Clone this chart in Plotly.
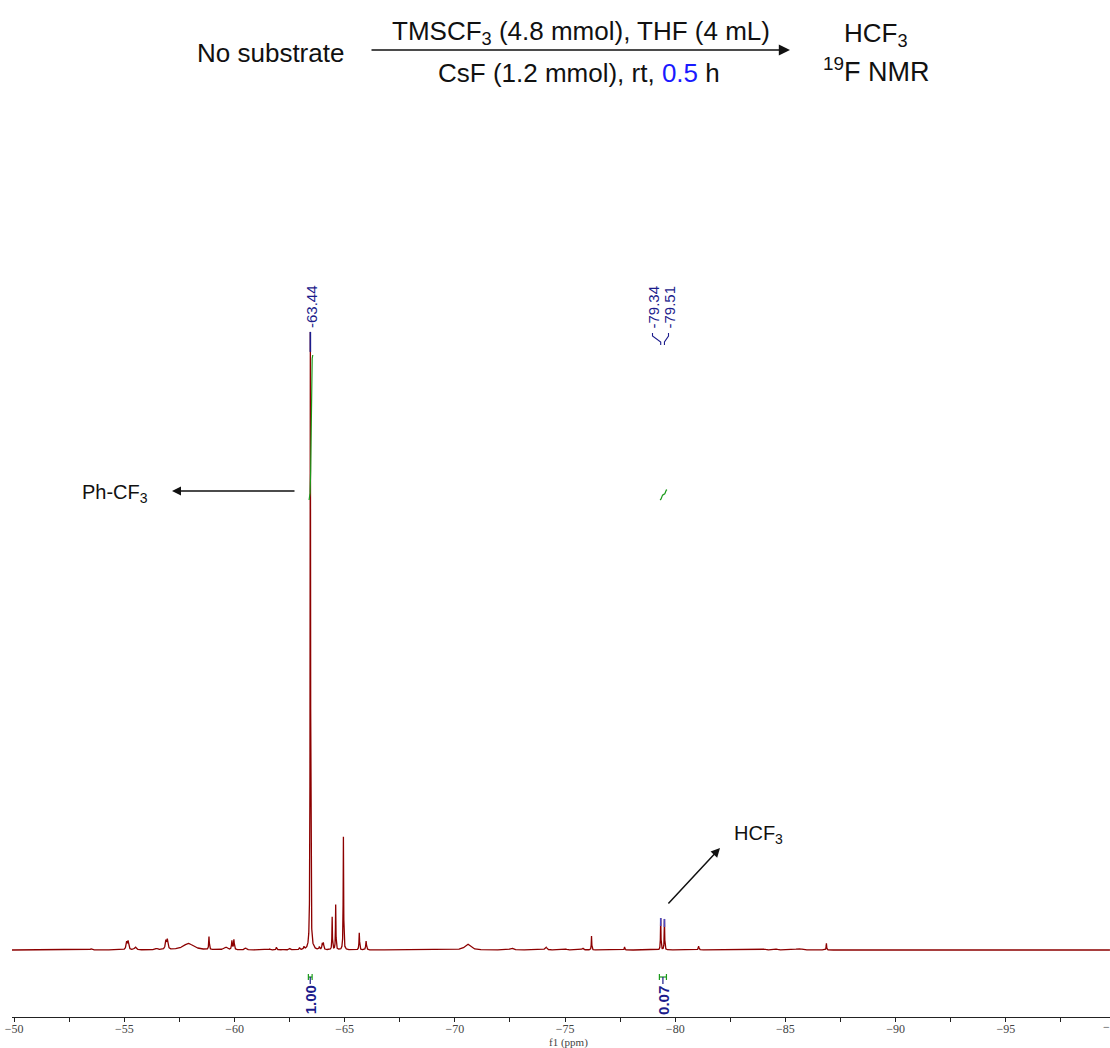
import numpy as np
import plotly.graph_objects as go

# ---------------- data ----------------
# 19F NMR peak list: chemical shift (ppm), relative intensity (tallest = 100), half width (ppm)
peak_ppm = [-53.50, -55.10, -55.17, -55.50, -56.47, -56.88, -56.95, -57.90, -58.84,
            -59.60, -59.88, -59.97, -60.50, -61.60, -61.90, -62.20, -62.50, -62.95,
            -63.15, -63.44, -63.60, -63.85, -63.98, -64.03, -64.43, -64.59, -64.94,
            -65.66, -65.97, -70.57, -72.57, -74.13, -75.04, -75.80, -76.20, -77.70,
            -79.34, -79.51, -81.06, -84.06, -84.60, -85.60, -86.86]
peak_int = [0.20, 1.20, 1.35, 0.45, 0.22, 1.35, 1.55, 1.05, 2.10,
            0.45, 1.45, 1.60, 0.30, 0.15, 0.45, 0.15, 0.22, 0.32,
            0.45, 100.0, 0.30, 0.45, 0.95, 1.05, 5.30, 7.30, 18.30,
            2.75, 1.45, 0.95, 0.30, 0.48, 0.15, 0.30, 2.25, 0.48,
            5.15, 5.00, 0.62, 0.15, 0.15, 0.22, 1.10]
peak_hw = [0.05, 0.03, 0.03, 0.05, 0.05, 0.03, 0.03, 0.28, 0.015,
           0.08, 0.02, 0.02, 0.05, 0.03, 0.02, 0.03, 0.03, 0.02,
           0.02, 0.012, 0.02, 0.02, 0.02, 0.02, 0.012, 0.012, 0.012,
           0.015, 0.02, 0.15, 0.08, 0.05, 0.05, 0.04, 0.012, 0.015,
           0.012, 0.012, 0.02, 0.05, 0.05, 0.15, 0.012]

# picked peak labels
picked_ppm = [-63.44, -79.34, -79.51]
picked_text = ["-63.44", "-79.34", "-79.51"]

# integrals
integ_from = [-63.35, -79.28]
integ_to = [-63.52, -79.60]
integ_val = [1.00, 0.07]

# ---------------- layout geometry ----------------
W, H = 1110, 1048
ML, MR, MT, MB = 12, 0, 0, 31
PW, PH = W - ML - MR, H - MT - MB
XL, XR = -49.90, -99.73
PX_PER_UNIT = 6.18          # pixels per intensity unit
BASE_PY = 950               # pixel row of the baseline
YB = -(MT + PH - BASE_PY) / PX_PER_UNIT
YT = (BASE_PY - MT) / PX_PER_UNIT


def xpx(px):
    return XL + (px - ML) / PW * (XR - XL)


def ypx(py):
    return YB + (MT + PH - py) / PH * (YT - YB)


def xpaper(px):
    return (px - ML) / PW


def ypaper(py):
    return (MT + PH - py) / PH


def ppm_to_px(p):
    return ML + (p - XL) / (XR - XL) * PW


# ---------------- spectrum ----------------
ppm = np.arange(XL, XR, -0.0025)
spec = np.zeros_like(ppm)
for c, h, w in zip(peak_ppm, peak_int, peak_hw):
    spec += h * w ** 2 / ((ppm - c) ** 2 + w ** 2)

RED = "#8c0000"
NAVY = "#1c1c8c"
GREEN = "#1a9a1a"

fig = go.Figure()
fig.add_trace(go.Scatter(x=ppm, y=spec, mode="lines",
                         line=dict(color=RED, width=1.3), hoverinfo="skip"))

# peak top markers (blue) on picked peaks
marker_len_px = [20, 8, 8]
for p, L in zip(picked_ppm, marker_len_px):
    idx = np.argmin(np.abs(ppm - p))
    lo, hi = max(idx - 20, 0), idx + 20
    j = lo + int(np.argmax(spec[lo:hi]))
    top = spec[j]
    col = NAVY if L > 10 else "#4a4ac0"
    fig.add_trace(go.Scatter(x=[ppm[j], ppm[j]], y=[top, top - L / PX_PER_UNIT],
                             mode="lines", line=dict(color=col, width=1.6),
                             hoverinfo="skip"))

# integral curves (green) above the peaks
INT_BASE_PY = 500
INT_FULL_PX = 145
for a, b, v in zip(integ_from, integ_to, integ_val):
    m = (ppm <= a) & (ppm >= b)
    xs = ppm[m]
    cs = np.cumsum(spec[m])
    cs = (cs - cs[0]) / (cs[-1] - cs[0])
    ys = ypx(INT_BASE_PY) + cs * v * INT_FULL_PX / PX_PER_UNIT
    fig.add_trace(go.Scatter(x=xs - 0.03, y=ys, mode="lines",
                             line=dict(color=GREEN, width=1.2), hoverinfo="skip"))

# integration brackets under the spectrum
BR_PY = 977
for a, b in zip(integ_from, integ_to):
    fig.add_trace(go.Scatter(
        x=[a, a, None, a, b, None, b, b],
        y=[ypx(BR_PY - 3), ypx(BR_PY + 3), None, ypx(BR_PY), ypx(BR_PY), None,
           ypx(BR_PY - 3), ypx(BR_PY + 3)],
        mode="lines", line=dict(color=GREEN, width=1.2), hoverinfo="skip"))
    xm = (a + b) / 2
    fig.add_trace(go.Scatter(x=[xm, xm], y=[ypx(BR_PY), ypx(BR_PY + 7)], mode="lines",
                             line=dict(color=NAVY, width=1.2), hoverinfo="skip"))

annotations = []
for a, b, v in zip(integ_from, integ_to, integ_val):
    annotations.append(dict(x=(a + b) / 2, y=ypx(1000), xref="x", yref="y",
                            text=f"<b>{v:.2f}</b>", showarrow=False, textangle=-90,
                            font=dict(family="Arial, Liberation Sans", size=15, color=NAVY),
                            xanchor="center", yanchor="middle"))

# peak labels with connectors
label_px = [311.0, 652.5, 668.5]
for p, t, lx in zip(picked_ppm, picked_text, label_px):
    annotations.append(dict(x=xpx(lx), y=ypx(307), xref="x", yref="y", text=t,
                            showarrow=False, textangle=-90,
                            font=dict(family="Arial, Liberation Sans", size=15, color=NAVY),
                            xanchor="center", yanchor="middle"))
    ppx = ppm_to_px(p)
    if abs(ppx - lx) > 1.5:
        fig.add_trace(go.Scatter(
            x=[xpx(lx), xpx(lx), xpx(ppx), xpx(ppx)],
            y=[ypx(333), ypx(336), ypx(342), ypx(345)],
            mode="lines", line=dict(color=NAVY, width=1.1), hoverinfo="skip"))

FONT = "Arial, Liberation Sans, sans-serif"
SERIF = "Liberation Serif, DejaVu Serif, serif"
BLACK = "#111111"


def label(px, py, text, size, color=BLACK, family=FONT):
    return dict(x=xpaper(px), y=ypaper(py), xref="paper", yref="paper", text=text,
                showarrow=False, xanchor="center", yanchor="middle",
                font=dict(family=family, size=size, color=color))


def arrow(hx, hy, tx, ty, size=1.2, width=1.5):
    return dict(x=xpaper(hx), y=ypaper(hy), xref="paper", yref="paper", text="",
                showarrow=True, ax=tx - hx, ay=ty - hy, arrowhead=2, arrowsize=size,
                arrowwidth=width, arrowcolor=BLACK)


annotations += [
    label(270, 53, "No substrate", 26),
    label(581, 32, "TMSCF<sub>3</sub> (4.8 mmol), THF (4 mL)", 26),
    label(579, 73, "CsF (1.2 mmol), rt, <span style='color:#1a1aff'>0.5</span> h", 26),
    label(876, 35, "HCF<sub>3</sub>", 26),
    label(876, 70, "<sup>19</sup>F NMR", 27),
    arrow(790, 50, 370, 50, size=1.4, width=1.6),
    label(115, 493, "Ph-CF<sub>3</sub>", 20),
    arrow(172, 491, 296, 491),
    label(758, 834, "HCF<sub>3</sub>", 20),
    arrow(720, 848, 667, 905),
    label(568, 1042, "f1 (ppm)", 11, color="#444444", family=SERIF),
    label(ppm_to_px(-100.0), 1027, "\u2212100", 12, color="#444444", family=SERIF),
]

fig.update_layout(
    template="none",
    width=W, height=H,
    margin=dict(l=ML, r=MR, t=MT, b=MB, pad=0),
    paper_bgcolor="white", plot_bgcolor="white",
    font=dict(family=FONT, color="#444444"),
    showlegend=False,
    annotations=annotations,
    xaxis=dict(range=[XL, XR], showgrid=False, zeroline=False,
               showline=True, linecolor="#222222", linewidth=1.2,
               ticks="outside", ticklen=4, tickwidth=1, tickcolor="#222222",
               tick0=-50, dtick=5, ticklabelstandoff=-4,
               minor=dict(dtick=2.5, ticks="outside", ticklen=4, tickwidth=1,
                          tickcolor="#222222", showgrid=False),
               tickfont=dict(family=SERIF, size=12, color="#444444"),
               fixedrange=True),
    yaxis=dict(range=[YB, YT], visible=False, fixedrange=True),
)

fig.write_html("out.html")
